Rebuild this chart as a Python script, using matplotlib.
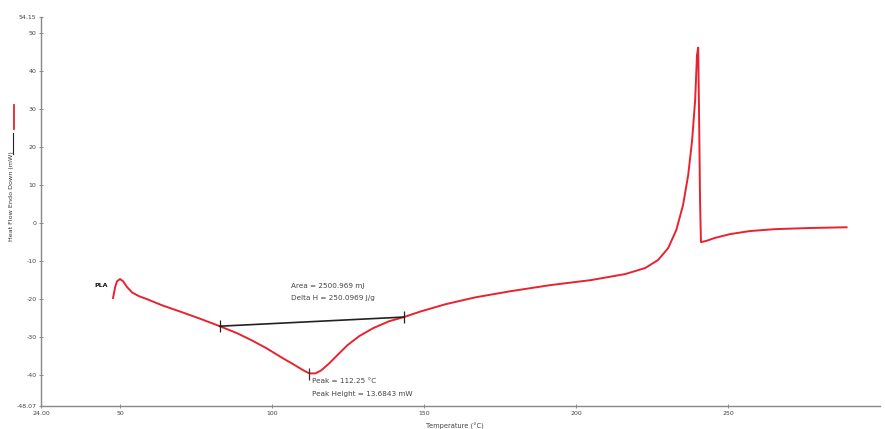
import matplotlib
matplotlib.use("Agg")
import matplotlib.pyplot as plt
from matplotlib.lines import Line2D

temperature = [47.7, 48.4, 49.0, 50.0, 51.0, 52.3, 53.9, 56.2, 58.9, 63.8, 70.3, 76.9,
               82.8, 88.4, 93.3, 98.2, 103.1, 107.0, 110.3, 112.3, 114.3, 116.2, 118.9,
               121.5, 124.8, 128.7, 133.3, 138.5, 143.4, 149.0, 157.2, 167.0, 178.5,
               191.6, 204.8, 216.2, 222.8, 227.0, 230.3, 233.0, 235.2, 236.9, 238.2,
               239.2, 239.8, 240.2, 240.5, 240.8, 241.1, 242.8, 245.7, 250.7, 257.2,
               265.4, 276.9, 289.0]
heat_flow = [-19.7, -16.8, -15.3, -14.7, -15.3, -16.8, -18.2, -19.2, -20.0, -21.6, -23.4,
             -25.3, -27.1, -28.9, -30.8, -32.9, -35.3, -37.1, -38.7, -39.5, -39.5, -38.7,
             -36.8, -34.7, -32.1, -29.7, -27.6, -25.8, -24.7, -23.2, -21.3, -19.5, -17.9,
             -16.3, -15.0, -13.4, -11.8, -9.7, -6.6, -1.8, 4.7, 12.6, 21.8, 32.4, 44.2,
             46.1, 27.1, 6.1, -5.0, -4.7, -3.9, -2.9, -2.1, -1.6, -1.3, -1.1]

baseline_T = [82.8, 143.4]
baseline_H = [-27.1, -24.7]
peak_T = [112.3]
peak_H = [-39.6]

x_ticks = [24.0, 50, 100, 150, 200, 250]
x_tick_labels = ["24.00", "50", "100", "150", "200", "250"]
y_ticks = [-48.07, -40, -30, -20, -10, 0, 10, 20, 30, 40, 50, 54.15]
y_tick_labels = ["-48.07", "-40", "-30", "-20", "-10", "0", "10", "20", "30", "40", "50", "54.15"]

W, H = 885, 429
fig = plt.figure(figsize=(W / 100, H / 100), dpi=100)
ax = fig.add_axes([41 / W, 23 / H, (880 - 41) / W, (406 - 17) / H])

ax.plot(temperature, heat_flow, color="#e8232f", lw=1.4, zorder=3)
ax.plot(baseline_T, baseline_H, color="#222222", lw=1.2, zorder=4,
        marker="|", markersize=9, markeredgewidth=0.9)
ax.plot(peak_T, peak_H, color="#333333", marker="|", markersize=9,
        markeredgewidth=0.9, ls="none", zorder=4)

ax.set_xlim(24, 300)
ax.set_ylim(-48.07, 54.15)
ax.set_xticks(x_ticks)
ax.set_xticklabels(x_tick_labels)
ax.set_yticks(y_ticks)
ax.set_yticklabels(y_tick_labels)
ax.tick_params(labelsize=4.5, labelcolor="#444444", length=2.5, width=0.6,
               color="#777777", direction="inout", pad=2)

for s in ["top", "right"]:
    ax.spines[s].set_visible(False)
for s in ["left", "bottom"]:
    ax.spines[s].set_color("#888888")
    ax.spines[s].set_linewidth(1.0)

txt = dict(fontsize=5.2, color="#444444", ha="left", va="center")
ax.text(106.4, -16.6, "Area = 2500.969 mJ", **txt)
ax.text(106.4, -19.7, "Delta H = 250.0969 J/g", **txt)
ax.text(113.3, -41.6, "Peak = 112.25 °C", **txt)
ax.text(113.3, -44.8, "Peak Height = 13.6843 mW", **txt)
ax.text(41.5, -16.3, "PLA", fontsize=4.5, color="#111111", fontweight="bold",
        ha="left", va="center")

fig.text(455 / W, 3 / H, "Temperature (°C)", fontsize=4.8, color="#444444",
         ha="center", va="center")
fig.text(12 / W, 1 - 196 / H, "Heat Flow Endo Down (mW)", fontsize=4.6,
         color="#333333", rotation=90, ha="center", va="center")
fig.add_artist(Line2D([12.5 / W, 12.5 / W], [1 - 133 / H, 1 - 154 / H],
                      transform=fig.transFigure, color="#222222", lw=0.8))
fig.add_artist(Line2D([14 / W, 14 / W], [1 - 105 / H, 1 - 129 / H],
                      transform=fig.transFigure, color="#e8232f", lw=1.3))

fig.savefig("out.png", dpi=100)
